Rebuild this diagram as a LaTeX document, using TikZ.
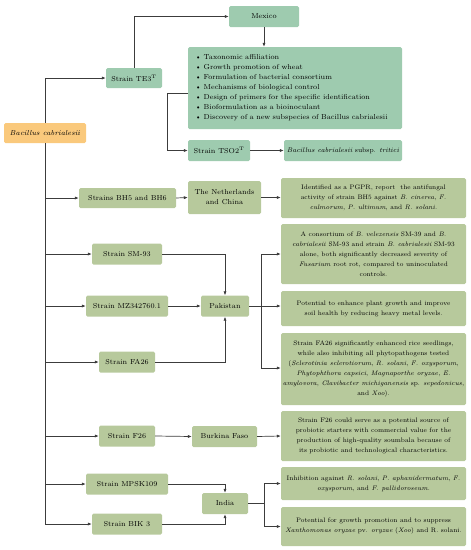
\documentclass[tikz,border=0pt]{standalone}
\usetikzlibrary{arrows.meta}

\definecolor{rootorange}{RGB}{250,201,124}
\definecolor{tealgreen}{RGB}{158,203,175}
\definecolor{olivegreen}{RGB}{183,201,156}
\definecolor{linegray}{RGB}{60,60,60}

\tikzset{
  box/.style={rounded corners=1.5pt, inner sep=0pt, align=center,
    font=\fontsize{7.2}{10}\selectfont},
  rootbox/.style={box, fill=rootorange},
  tealbox/.style={box, fill=tealgreen},
  olivebox/.style={box, fill=olivegreen},
  notebox/.style={olivebox, minimum width=185pt, font=\fontsize{6.5}{10}\selectfont},
  link/.style={draw=linegray, line width=0.7pt, -{Latex[length=4pt,width=3.2pt]}},
  plain/.style={draw=linegray, line width=0.7pt}
}

\begin{document}
\begin{tikzpicture}[x=1pt,y=-1pt]
    \useasboundingbox (0,0) rectangle (471,550);

    \begin{scope}
        % root and the Mexico branch
        \node[rootbox, minimum width=82pt, minimum height=20pt] (R) at (45,133) {\textit{Bacillus cabrialesii}};
        \node[tealbox, minimum width=56pt, minimum height=20pt] (TE) at (134,78) {Strain TE3$^{\mathrm{T}}$};
        \node[tealbox, minimum width=70pt, minimum height=21pt] (MX) at (264,16.5) {Mexico};
        \node[tealbox, minimum width=214pt, minimum height=82pt, align=left, text width=200pt] (LS) at (295,88) {%
            \textbullet\ Taxonomic affiliation\\
            \textbullet\ Growth promotion of wheat\\
            \textbullet\ Formulation of bacterial consortium\\
            \textbullet\ Mechanisms of biological control\\
            \textbullet\ Design of primers for the specific identification\\
            \textbullet\ Bioformulation as a bioinoculant\\
            \textbullet\ Discovery of a new subspecies of Bacillus cabrialesii};
        \node[tealbox, minimum width=62pt, minimum height=21pt] (TS) at (219,150.5) {Strain TSO2$^{\mathrm{T}}$};
        \node[tealbox, minimum width=118pt, minimum height=21pt, font=\fontsize{6.7}{10}\selectfont] (SB) at (343,150.5) {\textit{Bacillus cabrialesii} subsp. \textit{tritici}};

        % strains
        \node[olivebox, minimum width=97pt, minimum height=20pt] (BH) at (127.5,198) {Strains BH5 and BH6};
        \node[olivebox, minimum width=70pt, minimum height=21pt] (SM) at (127,254) {Strain SM-93};
        \node[olivebox, minimum width=82pt, minimum height=21pt] (MZ) at (127,306) {Strain MZ342760.1};
        \node[olivebox, minimum width=56pt, minimum height=21pt] (FA) at (127,362) {Strain FA26};
        \node[olivebox, minimum width=56pt, minimum height=21pt] (F26) at (127,436) {Strain F26};
        \node[olivebox, minimum width=82pt, minimum height=21pt] (MP) at (127,484) {Strain MPSK109};
        \node[olivebox, minimum width=70pt, minimum height=21pt] (BK) at (127,524) {Strain BIK 3};

        % countries
        \node[olivebox, minimum width=73pt, minimum height=33pt] (NC) at (224.5,197.5) {The Netherlands\\and China};
        \node[olivebox, minimum width=48pt, minimum height=21pt] (PK) at (225,306) {Pakistan};
        \node[olivebox, minimum width=65pt, minimum height=21pt] (BF) at (224.5,436.5) {Burkina Faso};
        \node[olivebox, minimum width=46pt, minimum height=21pt] (IN) at (225,503.5) {India};

        % findings
        \node[notebox, minimum height=40pt] (T1) at (373.5,198) {%
            Identified as a PGPR, report\ \ the antifungal\\
            activity of strain BH5 against \textit{B. cinerea}, \textit{F.}\\
            \textit{culmorum}, \textit{P. ultimum}, and \textit{R. solani}.};
        \node[notebox, minimum height=60pt] (T2) at (373.5,254) {%
            A consortium of \textit{B. velezensis} SM-39 and \textit{B.}\\
            \textit{cabrialesii} SM-93 and strain \textit{B. cabrialesii} SM-93\\
            alone, both significantly decreased severity of\\
            \textit{Fusarium} root rot, compared to uninoculated\\
            controls.};
        \node[notebox, minimum height=35pt] (T3) at (373.5,308.5) {%
            Potential to enhance plant growth and improve\\
            soil health by reducing heavy metal levels.};
        \node[notebox, minimum height=72pt] (T4) at (373.5,369) {%
            Strain FA26 significantly enhanced rice seedlings,\\
            while also inhibiting all phytopathogens tested\\
            (\textit{Sclerotinia sclerotiorum}, \textit{R. solani}, \textit{F. oxysporum},\\
            \textit{Phytophthora capsici}, \textit{Magnaporthe oryzae}, \textit{E.}\\
            \textit{amylovora}, \textit{Clavibacter michiganensis} sp. \textit{sepedonicus},\\
            and \textit{Xoo}).};
        \node[notebox, minimum height=50pt] (T5) at (373.5,436) {%
            Strain F26 could serve as a potential source of\\
            probiotic starters with commercial value for the\\
            production of high-quality soumbala because of\\
            its probiotic and technological characteristics.};
        \node[notebox, minimum height=33pt] (T6) at (373.5,483.5) {%
            Inhibition against \textit{R. solani}, \textit{P. aphanidermatum}, \textit{F.}\\
            \textit{oxysporum}, and \textit{F. pallidoroseum}.};
        \node[notebox, minimum height=39pt] (T7) at (373.5,526.5) {%
            Potential for growth promotion and to suppress\\
            \textit{Xanthomonas oryzae} pv. \textit{oryzae} (\textit{Xoo}) and R. solani.};
    \end{scope}

    \begin{scope}
        % Mexico branch
        \path[link] (R.north) |- (TE.west);
        \path[link] (TE.north) |- (MX.west);
        \path[link] (MX.south) -- (LS.north -| MX.south);
        \path[link] (LS.west |- 0,93) -- ++(-20,0) |- (TS.west);
        \path[link] (TS.east) -- (SB.west);

        % trunk
        \path[plain] (R.south) -- (45,524);
        \foreach \s in {BH,SM,MZ,FA,F26,MP,BK}
            \path[link] (45,0 |- \s.west) -- (\s.west);

        % countries
        \path[link] (BH.east) -- (NC.west);
        \path[link] (NC.east) -- (T1.west |- NC.east);
        \path[link] (SM.east) -| (PK.north);
        \path[link] (MZ.east) -- (PK.west);
        \path[link] (FA.east) -| (PK.south);
        \path[link] (PK.east) -- ++(12,0) |- (T2.west);
        \path[link] (PK.east) -- (T3.west |- PK.east);
        \path[link] (PK.east) -- ++(12,0) |- (T4.west |- 0,368);
        \path[link] (F26.east) -- (BF.west);
        \path[link] (BF.east) -- (T5.west);
        \path[link] (MP.east) -| (IN.north);
        \path[link] (BK.east) -| (IN.south);
        \path[link] (IN.east) -- ++(16,0) |- (T6.west);
        \path[link] (IN.east) -- ++(16,0) |- (T7.west);
    \end{scope}
\end{tikzpicture}
\end{document}
